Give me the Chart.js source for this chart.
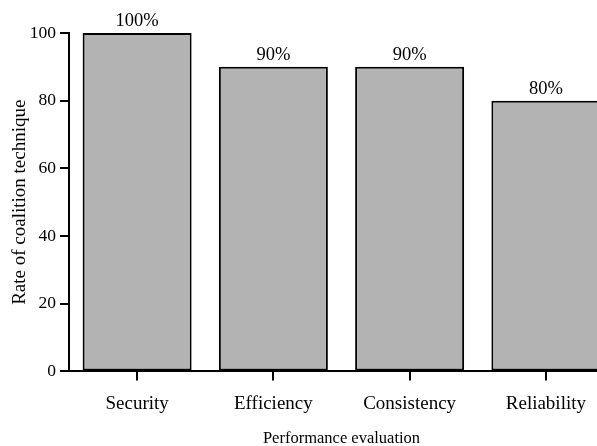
<!DOCTYPE html>
<html>
<head>
<meta charset="utf-8">
<script src="https://cdn.jsdelivr.net/npm/chart.js@4"></script>
<style>
  html, body { margin: 0; padding: 0; background: #fff; overflow: hidden; }
  #wrap { width: 614px; height: 446px; }
</style>
</head>
<body>
<div id="wrap"><canvas id="perfChart"></canvas></div>
<script>
// --- data ---
const categories = ['Security', 'Efficiency', 'Consistency', 'Reliability'];
const rates = [100, 90, 90, 80];
const yTicks = [0, 20, 40, 60, 80, 100];

const serif = '"Liberation Serif", "DejaVu Serif", serif';

// draws the "xx%" text above each bar
const barLabels = {
    id: 'barLabels',
    afterDatasetsDraw(chart) {
        const ctx = chart.ctx;
        const meta = chart.getDatasetMeta(0);
        ctx.save();
        ctx.font = '18.5px ' + serif;
        ctx.fillStyle = '#000';
        ctx.textAlign = 'center';
        ctx.textBaseline = 'alphabetic';
        meta.data.forEach((bar, i) => {
            ctx.fillText(rates[i] + '%', bar.x, bar.y - 7);
        });
        ctx.restore();
    }
};

const ctx = document.getElementById('perfChart').getContext('2d');
new Chart(ctx, {
    type: 'bar',
    data: {
        labels: categories,
        datasets: [{
            data: rates,
            backgroundColor: '#b3b3b3',
            borderColor: '#000',
            borderWidth: 2,
            borderSkipped: false,
            barPercentage: 0.8,
            categoryPercentage: 1
        }]
    },
    options: {
        responsive: true,
        maintainAspectRatio: false,
        animation: false,
        layout: { padding: { top: 33, right: 0, left: 9, bottom: -3 } },
        plugins: { legend: { display: false }, tooltip: { enabled: false } },
        scales: {
            x: {
                grid: { display: true, drawOnChartArea: false, offset: false, tickLength: 9, color: '#000', lineWidth: 2 },
                border: { color: '#000', width: 2 },
                ticks: { color: '#000', font: { family: serif, size: 19 }, padding: 12, maxRotation: 0 },
                title: { display: true, text: 'Performance evaluation', color: '#000', font: { family: serif, size: 16.5 }, padding: { top: 2, bottom: 0 } }
            },
            y: {
                min: 0,
                max: 100,
                afterBuildTicks: axis => { axis.ticks = yTicks.map(v => ({ value: v })); },
                afterFit: axis => { axis.width = 60; },
                grid: { display: true, drawOnChartArea: false, tickLength: 9, color: '#000', lineWidth: 2 },
                border: { color: '#000', width: 2 },
                ticks: { color: '#000', font: { family: serif, size: 17.5 }, padding: 4 },
                title: { display: true, text: 'Rate of coalition technique', color: '#000', font: { family: serif, size: 19 }, padding: { top: 0, bottom: 0 } }
            }
        }
    },
    plugins: [barLabels]
});
</script>
</body>
</html>
